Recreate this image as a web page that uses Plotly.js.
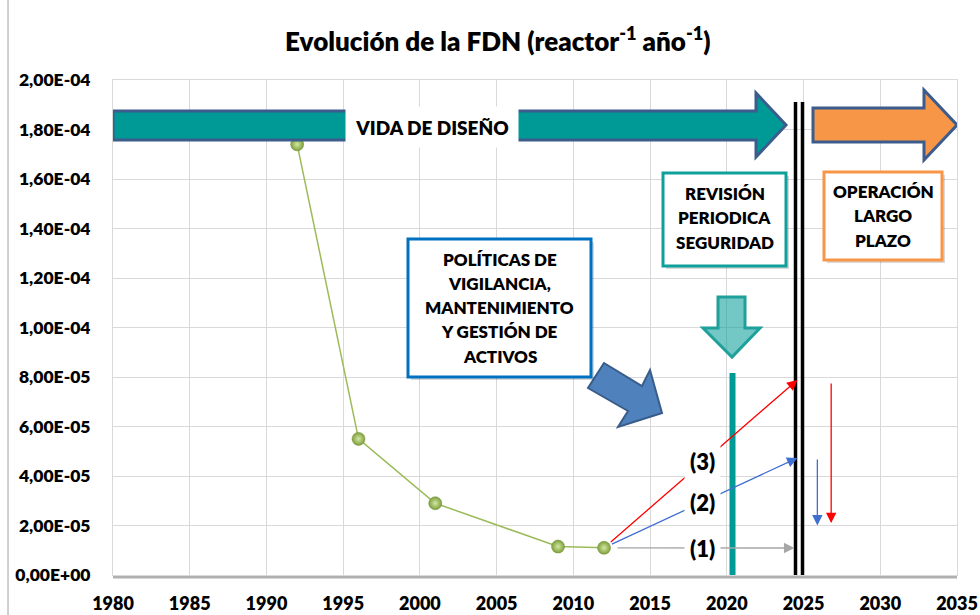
<!DOCTYPE html>
<html><head><meta charset="utf-8">
<script src="https://cdn.plot.ly/plotly-3.0.1.min.js"></script>
<style>body{margin:0;background:#fff}#chart{width:980px;height:615px}</style>
</head><body><div id="chart"></div>
<script>
// ---- data ----
const years = [1992, 1996, 2001, 2009, 2012];
const fdn = [1.74e-4, 5.5e-5, 2.9e-5, 1.15e-5, 1.1e-5];
const xTickVals = [1980, 1985, 1990, 1995, 2000, 2005, 2010, 2015, 2020, 2025, 2030, 2035];
const yTickVals = [0, 2e-5, 4e-5, 6e-5, 8e-5, 1e-4, 1.2e-4, 1.4e-4, 1.6e-4, 1.8e-4, 2e-4];
const yTickText = ['0,00E+00','2,00E-05','4,00E-05','6,00E-05','8,00E-05','1,00E-04','1,20E-04','1,40E-04','1,60E-04','1,80E-04','2,00E-04'];
const scenarioLabels = ['(1)', '(2)', '(3)'];
const scenarioEndYear = [2024.4, 2024.6, 2024.6];
const scenarioEndVal = [1.09e-5, 4.73e-5, 7.88e-5];
const scenarioLabelVal = [1.09e-5, 2.91e-5, 4.57e-5];
const scenarioColors = ['#a6a6a6', '#3f6fd0', '#ff0000'];
const dropYear = [2025.9, 2026.8];
const dropFrom = [4.73e-5, 7.8e-5];
const dropTo = [2.0e-5, 2.1e-5];
const dropColors = ['#3f6fd0', '#ff0000'];

// ---- helpers: placement of decorative shapes ----
const X = px => 1980 + (px - 113) * 55 / 844;
const Y = py => (575 - py) * 2e-4 / 495;
const path = pts => 'M' + pts.map(p => X(p[0]) + ',' + Y(p[1])).join('L') + 'Z';

const FONT = 'Lato, "Open Sans", sans-serif';
const W = 800;
const teal = '#009a96';
const dblue = '#3b5c8c';

const shapes = [];
const annotations = [];

shapes.push({type:'line', xref:'paper', yref:'paper', x0:0, x1:1, y0:-0.004, y1:-0.004, line:{color:'#b0b0b0', width:3}, layer:'below'});
shapes.push({type:'line', xref:'paper', yref:'paper', x0:-0.1244, x1:-0.1244, y0:-0.1, y1:1.17, line:{color:'#a0a0a0', width:1}});

shapes.push({type:'path', xref:'x', yref:'y', path: path([[113,111],[756,111],[756,93],[786,125],[756,157],[756,140],[113,140]]), fillcolor: teal, line:{color:dblue, width:3}});
shapes.push({type:'path', xref:'x', yref:'y', path: path([[813,108],[924,108],[924,90],[957,125],[924,160],[924,142],[813,142]]), fillcolor:'#f79646', line:{color:dblue, width:3}});
shapes.push({type:'line', xref:'x', yref:'y', x0:X(795.5), x1:X(795.5), y0:Y(102), y1:Y(578), line:{color:'#000', width:3.5}});
shapes.push({type:'line', xref:'x', yref:'y', x0:X(802.5), x1:X(802.5), y0:Y(102), y1:Y(578), line:{color:'#000', width:3.5}});
shapes.push({type:'line', xref:'x', yref:'y', x0:X(732.5), x1:X(732.5), y0:Y(373), y1:Y(578), line:{color:teal, width:6}});
shapes.push({type:'path', xref:'x', yref:'y', path: path([[718,297],[745,297],[745,328],[760,328],[732,357],[703,328],[718,328]]), fillcolor:'rgba(0,154,150,0.55)', line:{color:'#1fa09b', width:3}});
shapes.push({type:'path', xref:'x', yref:'y', path: path([[604,363],[642,386],[650,370],[662,413],[618,427],[628,411],[588,388]]), fillcolor:'#4f81bd', line:{color:'#385d8a', width:2}});

function box(x0, y0, x1, y1, col) {
  shapes.push({type:'rect', xref:'x', yref:'y', x0:X(x0+3), x1:X(x1+3), y0:Y(y1+3), y1:Y(y0+3), fillcolor:'rgba(0,0,0,0.15)', line:{width:0}});
  shapes.push({type:'rect', xref:'x', yref:'y', x0:X(x0), x1:X(x1), y0:Y(y1), y1:Y(y0), fillcolor:'#fff', line:{color:col, width:3}});
}
box(663, 173, 786, 266, '#10a09c');
box(824, 172, 942, 260, '#f79646');
box(408, 239, 591, 377, '#0070c0');

function txt(px, py, t, size) {
  annotations.push({x:X(px), y:Y(py), xref:'x', yref:'y', text:t, showarrow:false, font:{family:FONT, size:size, color:'#000', weight:W}, xanchor:'center', yanchor:'middle'});
}
['REVISIÓN','PERIODICA','SEGURIDAD'].forEach((t,i) => txt(724.5, 193 + i*24.5, t, 17));
['OPERACIÓN','LARGO','PLAZO'].forEach((t,i) => txt(883, 191 + i*24.5, t, 17));
['POLÍTICAS DE','VIGILANCIA,','MANTENIMIENTO','Y GESTIÓN DE','ACTIVOS'].forEach((t,i) => txt(499.5, 259 + i*24.3, t, 17));
annotations.push({x:X(432), y:Y(127), xref:'x', yref:'y', text:'VIDA DE DISEÑO', showarrow:false, font:{family:FONT, size:19, color:'#000', weight:W}, bgcolor:'#fff', width:170, height:38});

const lastYear = years[years.length-1], lastVal = fdn[fdn.length-1];
scenarioLabels.forEach((lab, i) => {
  annotations.push({x:scenarioEndYear[i], y:scenarioEndVal[i], ax:lastYear, ay:lastVal, xref:'x', yref:'y', axref:'x', ayref:'y', text:'', showarrow:true, arrowhead:2, arrowsize:1.6, arrowwidth:1.3, arrowcolor:scenarioColors[i], startstandoff: i===0 ? 12 : 7});
});
scenarioLabels.forEach((lab, i) => {
  annotations.push({x:X(702), y:scenarioLabelVal[i], xref:'x', yref:'y', text:lab, showarrow:false, font:{family:FONT, size:22, color:'#000', weight:W}, bgcolor:'#fff', borderpad:5});
});
dropYear.forEach((yr, i) => {
  annotations.push({x:yr, y:dropTo[i], ax:yr, ay:dropFrom[i], xref:'x', yref:'y', axref:'x', ayref:'y', text:'', showarrow:true, arrowhead:2, arrowsize:1.6, arrowwidth:1.3, arrowcolor:dropColors[i]});
});

const trace = {
  x: years, y: fdn, type:'scatter', mode:'lines+markers',
  line:{color:'#9bbb59', width:1.5},
  marker:{size:13, color:'#7f9f3c', gradient:{type:'radial', color:'#d2e8a2'}, line:{color:'#6a8a30', width:0.5}},
  hoverinfo:'skip'
};

const layout = {
  width:980, height:615,
  margin:{l:113, r:23, t:80, b:40},
  paper_bgcolor:'#fff', plot_bgcolor:'#fff',
  showlegend:false,
  title:{text:'Evolución de la FDN (reactor<sup>-1</sup> año<sup>-1</sup>)', x:0.508, xref:'container', y:0.932, yref:'container', yanchor:'middle', font:{family:FONT, size:26, color:'#000', weight:W}},
  xaxis:{range:[1980, 2035], tickvals:xTickVals, ticktext:xTickVals.map(String), showgrid:true, gridcolor:'#d9d9d9', gridwidth:1, zeroline:false, showline:true, linecolor:'#d9d9d9', mirror:true, ticks:'', ticklabelstandoff:12, tickfont:{family:FONT, size:18, color:'#000', weight:W}},
  yaxis:{range:[0, 2e-4], tickvals:yTickVals, ticktext:yTickText, showgrid:true, gridcolor:'#d9d9d9', gridwidth:1, zeroline:false, showline:true, linecolor:'#d9d9d9', mirror:true, ticks:'', ticklabelstandoff:18, tickfont:{family:FONT, size:17.5, color:'#000', weight:W}},
  shapes: shapes,
  annotations: annotations
};

Plotly.newPlot('chart', [trace], layout, {displayModeBar:false, staticPlot:true});
</script>
</body></html>
